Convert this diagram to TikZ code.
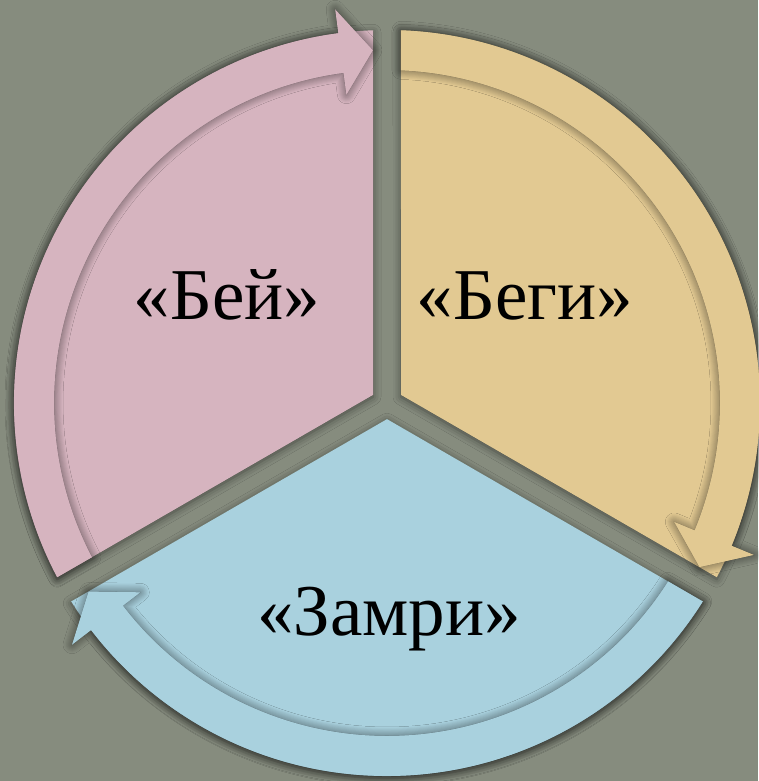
\documentclass[tikz,border=0pt]{standalone}
\usepackage{fontspec}
\setmainfont{Liberation Serif}
\usetikzlibrary{shadows.blur}
\definecolor{bg}{RGB}{134,140,126}
\definecolor{pinkc}{RGB}{214,180,191}
\definecolor{yelc}{RGB}{226,201,146}
\definecolor{bluec}{RGB}{169,209,222}
\tikzset{
 segpie/.style={blur shadow={shadow xshift=0pt,shadow yshift=-2pt,shadow blur radius=8pt,shadow opacity=50}},
 segband/.style={blur shadow={shadow xshift=0pt,shadow yshift=0pt,shadow blur radius=9pt,shadow blur steps=10,shadow opacity=60}},
 seglabel/.style={font=\fontsize{73}{80}\selectfont, text=black, inner sep=0pt, anchor=base}
}
\begin{document}
\begin{tikzpicture}[x=1pt,y=1pt]
\fill[bg] (0,0) rectangle (758,781);
\useasboundingbox (0,0) rectangle (758,781);
\begin{scope}[shift={(387,378)}]
 % pie sectors
 \fill[pinkc,segpie] (150:16.17) -- (207.85:373) arc[start angle=207.85,end angle=92.15,radius=373] -- cycle;
 \fill[yelc,segpie] (30:16.17) -- (87.85:373) arc[start angle=87.85,end angle=-27.85,radius=373] -- cycle;
 \fill[bluec,segpie] (-90:16.17) -- (-32.15:373) arc[start angle=-32.15,end angle=-147.85,radius=373] -- cycle;
 % arrow bands
 \fill[pinkc,segband] (207.85:373) arc[start angle=207.85,end angle=97.5,radius=373]
   -- (97.5:397) -- (92.3:353) -- (97.5:311) -- (97.5:333)
   arc[start angle=97.5,end angle=207.6,radius=333] -- cycle;
 \fill[yelc,segband] (87.85:373) arc[start angle=87.85,end angle=-22.5,radius=373]
   -- (-22.5:397) -- (-27.7:353) -- (-22.5:311) -- (-22.5:333)
   arc[start angle=-22.5,end angle=87.6,radius=333] -- cycle;
 \fill[bluec,segband] (-32.15:373) arc[start angle=-32.15,end angle=-142.5,radius=373]
   -- (-142.5:397) -- (-147.7:353) -- (-142.5:311) -- (-142.5:333)
   arc[start angle=-142.5,end angle=-32.4,radius=333] -- cycle;
\end{scope}
\node[seglabel] (bei) at (227,461) {«Бей»};
\node[seglabel] (begi) at (525,461) {«Беги»};
\node[seglabel] (zamri) at (389,145) {«Замри»};
\end{tikzpicture}
\end{document}
